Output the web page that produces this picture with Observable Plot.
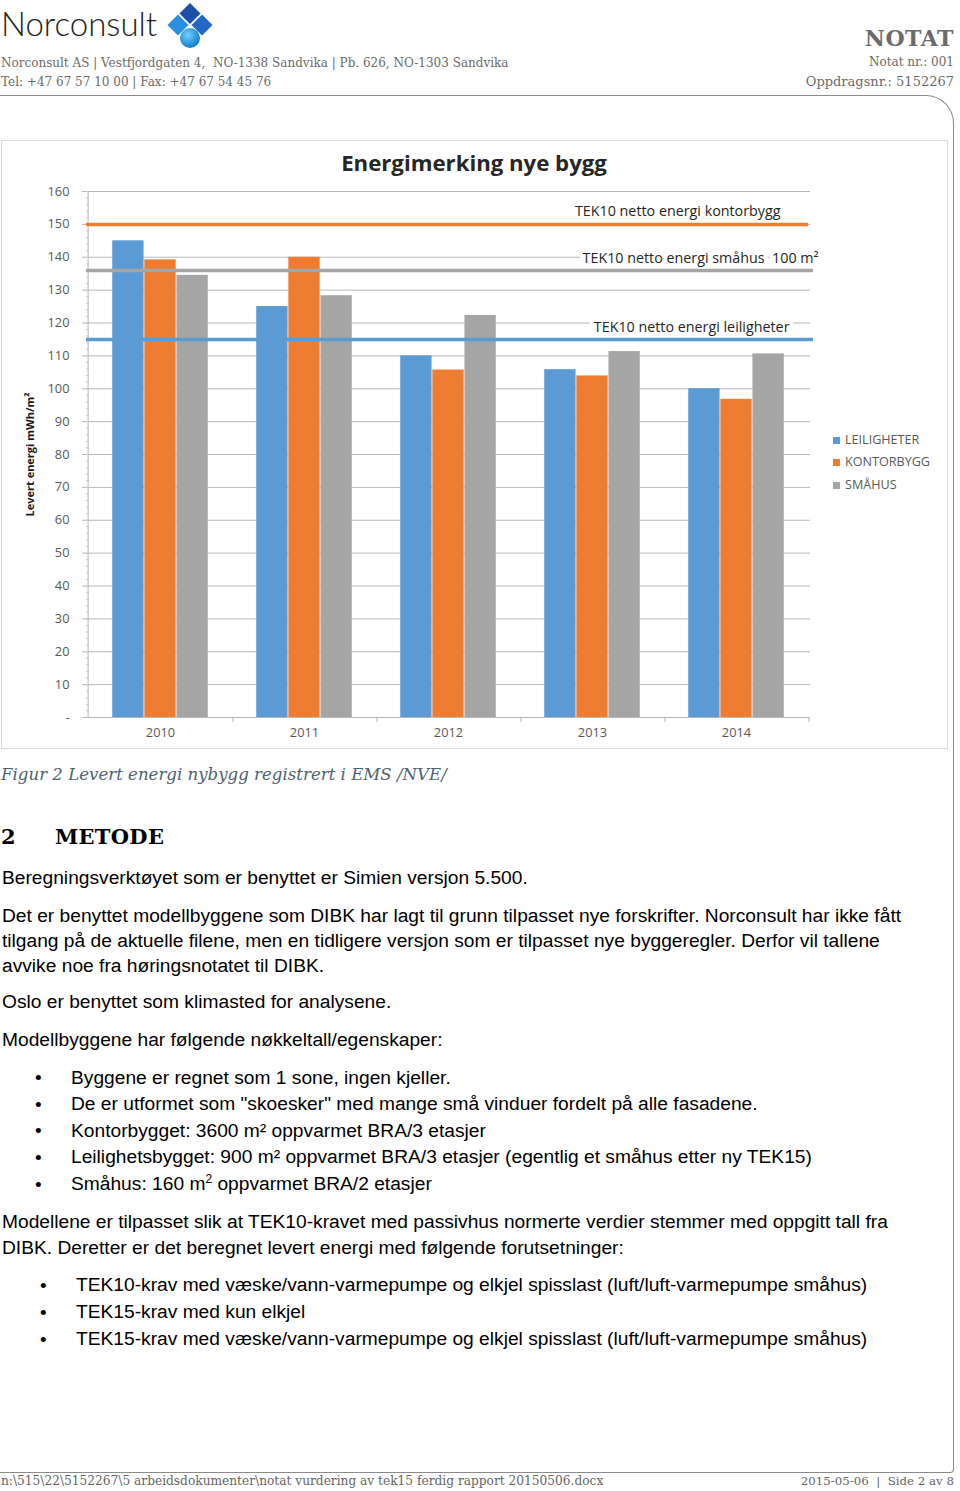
<!DOCTYPE html>
<html>
<head>
<meta charset="utf-8">
<script src="https://cdn.jsdelivr.net/npm/d3@7"></script>
<script src="https://cdn.jsdelivr.net/npm/@observablehq/plot@0.6"></script>
<style>
  html, body { margin: 0; padding: 0; background: #fff; }
  #page { position: relative; width: 960px; height: 1491px; overflow: hidden; background: #fff; }
  .abs { position: absolute; white-space: nowrap; }
  .slab { font-family: "DejaVu Serif", serif; }
  .hdr { font-size: 12px; color: #6b6b6b; line-height: 16px; }
  .body { font-family: "Liberation Sans", Arial, sans-serif; font-size: 19.2px; color: #000; line-height: 20px; }
  .bul { font-family: "Liberation Sans", Arial, sans-serif; font-size: 19px; line-height: 20px; }
  #chartbox { position: absolute; left: 1px; top: 140px; width: 945px; height: 607px; border: 1px solid #d9d9d9; }
  #chart { position: absolute; left: 2px; top: 175px; }
  .leg { position: absolute; left: 833px; font-family: "Open Sans", sans-serif; font-size: 12.6px; color: #595959; line-height: 14px; white-space: nowrap; }
  .leg i { display: inline-block; width: 7px; height: 7px; margin-right: 5px; vertical-align: 0px; }
</style>
</head>
<body>
<div id="page">
  <!-- header -->
  <div class="abs" style="left:1px; top:3px; font-family:'Lato',sans-serif; font-weight:300; font-size:33px; line-height:40px; color:#222;">Norconsult</div>
  <svg class="abs" style="left:164px; top:2px;" width="52" height="48" viewBox="0 0 52 48">
    <defs>
      <radialGradient id="ball" cx="0.4" cy="0.35" r="0.7"><stop offset="0" stop-color="#6fd0ff"/><stop offset="1" stop-color="#0a78c8"/></radialGradient>
    </defs>
    <polygon points="26,1 36.5,11.5 26,22 15.5,11.5" fill="#1b4fa8"/>
    <polygon points="14,12.5 24.5,23 14,33.5 3.5,23" fill="#2b8fe0"/>
    <polygon points="38,12.5 48.5,23 38,33.5 27.5,23" fill="#2467c4"/>
    <circle cx="26" cy="36" r="10" fill="url(#ball)"/>
  </svg>
  <div class="abs slab hdr" style="left:1px; top:55px;">Norconsult AS | Vestfjordgaten 4,&nbsp; NO-1338 Sandvika | Pb. 626, NO-1303 Sandvika</div>
  <div class="abs slab hdr" style="left:1px; top:74px;">Tel: +47 67 57 10 00 | Fax: +47 67 54 45 76</div>
  <div class="abs slab" style="right:6px; top:24px; font-size:22px; font-weight:bold; color:#6b6b6b; line-height:28px; letter-spacing:0.5px;">NOTAT</div>
  <div class="abs slab hdr" style="right:6px; top:54px;">Notat nr.: 001</div>
  <div class="abs slab hdr" style="right:6px; top:74px; font-size:13px;">Oppdragsnr.: 5152267</div>
  <!-- page frame -->
  <div class="abs" style="left:-2px; top:95px; width:955px; height:1376px; border-top:1.5px solid #8a8a8a; border-right:1.5px solid #8a8a8a; border-bottom:1.5px solid #8a8a8a; border-top-right-radius:28px; border-bottom-right-radius:4px;"></div>

  <!-- chart -->
  <div id="chartbox"></div>
  <div class="abs" style="left:0; width:948px; top:148px; text-align:center; font-family:'Open Sans',sans-serif; font-weight:bold; font-size:22.2px; line-height:30px; color:#262626;">Energimerking nye bygg</div>
  <div id="chart"></div>
  <div id="legend"></div>

  <!-- caption & body -->
  <div class="abs slab" style="left:1px; top:764px; font-size:16.6px; font-style:italic; color:#4e6272; line-height:22px;">Figur 2 Levert energi nybygg registrert i EMS /NVE/</div>
  <div class="abs slab" style="left:1px; top:824px; font-size:21px; font-weight:bold; line-height:26px; color:#000;">2</div>
  <div class="abs slab" style="left:55px; top:824px; font-size:21px; font-weight:bold; line-height:26px; color:#000; letter-spacing:0.3px;">METODE</div>

  <div class="abs body" style="left:2px; top:868px;">Beregningsverktøyet som er benyttet er Simien versjon 5.500.</div>
  <div class="abs body" style="left:2px; line-height:25px; top:903px;">Det er benyttet modellbyggene som DIBK har lagt til grunn tilpasset nye forskrifter. Norconsult har ikke fått<br>tilgang på de aktuelle filene, men en tidligere versjon som er tilpasset nye byggeregler. Derfor vil tallene<br>avvike noe fra høringsnotatet til DIBK.</div>
  <div class="abs body" style="left:2px; top:992px;">Oslo er benyttet som klimasted for analysene.</div>
  <div class="abs body" style="left:2px; top:1030px;">Modellbyggene har følgende nøkkeltall/egenskaper:</div>

  <div class="abs bul" style="left:35px; top:1068px;">•</div>
  <div class="abs body" style="left:71px; top:1068px;">Byggene er regnet som 1 sone, ingen kjeller.</div>
  <div class="abs bul" style="left:35px; top:1095px;">•</div>
  <div class="abs body" style="left:71px; top:1094px;">De er utformet som "skoesker" med mange små vinduer fordelt på alle fasadene.</div>
  <div class="abs bul" style="left:35px; top:1121px;">•</div>
  <div class="abs body" style="left:71px; top:1121px;">Kontorbygget: 3600 m² oppvarmet BRA/3 etasjer</div>
  <div class="abs bul" style="left:35px; top:1148px;">•</div>
  <div class="abs body" style="left:71px; top:1147px;">Leilighetsbygget: 900 m² oppvarmet BRA/3 etasjer (egentlig et småhus etter ny TEK15)</div>
  <div class="abs bul" style="left:35px; top:1175px;">•</div>
  <div class="abs body" style="left:71px; top:1174px;">Småhus: 160 m<sup style="font-size:12px; line-height:0;">2</sup> oppvarmet BRA/2 etasjer</div>

  <div class="abs body" style="left:2px; top:1212px;">Modellene er tilpasset slik at TEK10-kravet med passivhus normerte verdier stemmer med oppgitt tall fra</div>
  <div class="abs body" style="left:2px; top:1238px;">DIBK. Deretter er det beregnet levert energi med følgende forutsetninger:</div>

  <div class="abs bul" style="left:40px; top:1276px;">•</div>
  <div class="abs body" style="left:76px; top:1275px;">TEK10-krav med væske/vann-varmepumpe og elkjel spisslast (luft/luft-varmepumpe småhus)</div>
  <div class="abs bul" style="left:40px; top:1303px;">•</div>
  <div class="abs body" style="left:76px; top:1302px;">TEK15-krav med kun elkjel</div>
  <div class="abs bul" style="left:40px; top:1330px;">•</div>
  <div class="abs body" style="left:76px; top:1329px;">TEK15-krav med væske/vann-varmepumpe og elkjel spisslast (luft/luft-varmepumpe småhus)</div>

  <!-- footer -->
  <div class="abs slab hdr" style="left:1px; top:1473px; font-size:12.2px; color:#666;">n:\515\22\5152267\5 arbeidsdokumenter\notat vurdering av tek15 ferdig rapport 20150506.docx</div>
  <div class="abs slab hdr" style="right:6px; top:1473px; font-size:11.8px; color:#666;">2015-05-06 &nbsp;|&nbsp; Side 2 av 8</div>
</div>

<script>
// ---- data ----
const years = ["2010", "2011", "2012", "2013", "2014"];
const series = ["LEILIGHETER", "KONTORBYGG", "SMÅHUS"];
const leiligheter = [145, 125, 110, 105.8, 100];
const kontorbygg = [139.2, 140, 105.7, 103.9, 96.8];
const smahus = [134.5, 128.3, 122.3, 111.3, 110.6];
const colors = ["#5b9bd5", "#ed7d31", "#a5a5a5"];
const refValues = [150, 136, 115];   // kontorbygg, småhus, leiligheter
const refLabels = ["TEK10 netto energi kontorbygg", "TEK10 netto energi småhus  100 m²", "TEK10 netto energi leiligheter"];
const yTicks = [0, 10, 20, 30, 40, 50, 60, 70, 80, 90, 100, 110, 120, 130, 140, 150, 160];
const yLabel = "Levert energi mWh/m²";

const valuesBySeries = [leiligheter, kontorbygg, smahus];
const table = series.map((s, si) => years.map((y, i) => ({year: y, series: s, value: valuesBySeries[si][i]})));

// ---- layout ----
const W = 946, H = 573, ML = 84, MR = 138, MT = 16, MB = 31;
const bw = (W - ML - MR) / years.length;   // band width per year
const barW = 32.1;
const inset = (bw - barW) / 2;
const gridColor = "#b8b8b8";
const labelColor = "#595959";
const refFont = 14.3;

const marks = [
  Plot.gridY({ticks: yTicks.filter(d => d > 0), stroke: gridColor, strokeOpacity: 1}),
  Plot.axisY({ticks: yTicks, tickSize: 4, tickFormat: () => "", stroke: gridColor, label: null}),
  Plot.axisY({ticks: d3.range(0, 161, 2), tickSize: 3, dx: 3, tickFormat: () => "", stroke: "#d0d0d0", label: null}),
  Plot.axisY({ticks: yTicks, tickSize: 0, tickPadding: 17, tickFormat: d => d === 0 ? "-" : d, fill: labelColor, fontSize: 12.8, label: null}),
  Plot.ruleY([0], {stroke: gridColor}),
  Plot.ruleX([years[0]], {y1: 0, y2: 160, dx: -bw / 2, stroke: gridColor}),
  Plot.axisX({ticks: years, tickSize: 5, dx: bw / 2, tickFormat: () => "", stroke: gridColor, label: null}),
  Plot.axisX({ticks: years, tickSize: 0, tickPadding: 10, fill: labelColor, fontSize: 12.8, label: null}),
  ...table.map((rows, si) => Plot.barY(rows, {
    x: "year", y: "value", fill: colors[si],
    insetLeft: inset, insetRight: inset, dx: (si - 1) * barW
  })),
  // labels for the reference lines (white halo hides the grid behind)
  Plot.text([refLabels[0]], {y: [refValues[0]], frameAnchor: "right", textAnchor: "end", dx: -30, dy: -13,
    fill: "#262626", stroke: "white", strokeWidth: 8, fontSize: refFont}),
  Plot.text([refLabels[1]], {y: [refValues[1]], frameAnchor: "right", textAnchor: "end", dx: 8, dy: -11.5,
    fill: "#262626", stroke: "white", strokeWidth: 8, fontSize: refFont}),
  Plot.text([refLabels[2]], {y: [refValues[2]], frameAnchor: "right", textAnchor: "end", dx: -21, dy: -12,
    fill: "#262626", stroke: "white", strokeWidth: 8, fontSize: refFont}),
  Plot.ruleY([refValues[0]], {stroke: colors[1], strokeWidth: 3.5, insetRight: 2}),
  Plot.ruleY([refValues[1]], {stroke: colors[2], strokeWidth: 3.5, insetRight: -3}),
  Plot.ruleY([refValues[2]], {stroke: colors[0], strokeWidth: 3.5, insetRight: -3}),
  Plot.text([yLabel], {frameAnchor: "left", textAnchor: "middle", rotate: -90, dx: -56, fontWeight: "bold", fontSize: 11, fill: "#1a1a1a"})
];

const chart = Plot.plot({
  width: W, height: H,
  marginLeft: ML, marginRight: MR, marginTop: MT, marginBottom: MB,
  style: {fontFamily: "'Open Sans', sans-serif", background: "transparent", overflow: "visible"},
  x: {type: "band", domain: years, padding: 0, axis: null},
  y: {domain: [0, 160], axis: null},
  marks
});
document.getElementById("chart").appendChild(chart);

// legend (HTML, from the same arrays)
const legend = document.getElementById("legend");
const legTops = [433, 455, 478];
series.forEach((s, i) => {
  const d = document.createElement("div");
  d.className = "leg";
  d.style.top = legTops[i] + "px";
  d.innerHTML = `<i style="background:${colors[i]}"></i>${s}`;
  legend.appendChild(d);
});
</script>
</body>
</html>
